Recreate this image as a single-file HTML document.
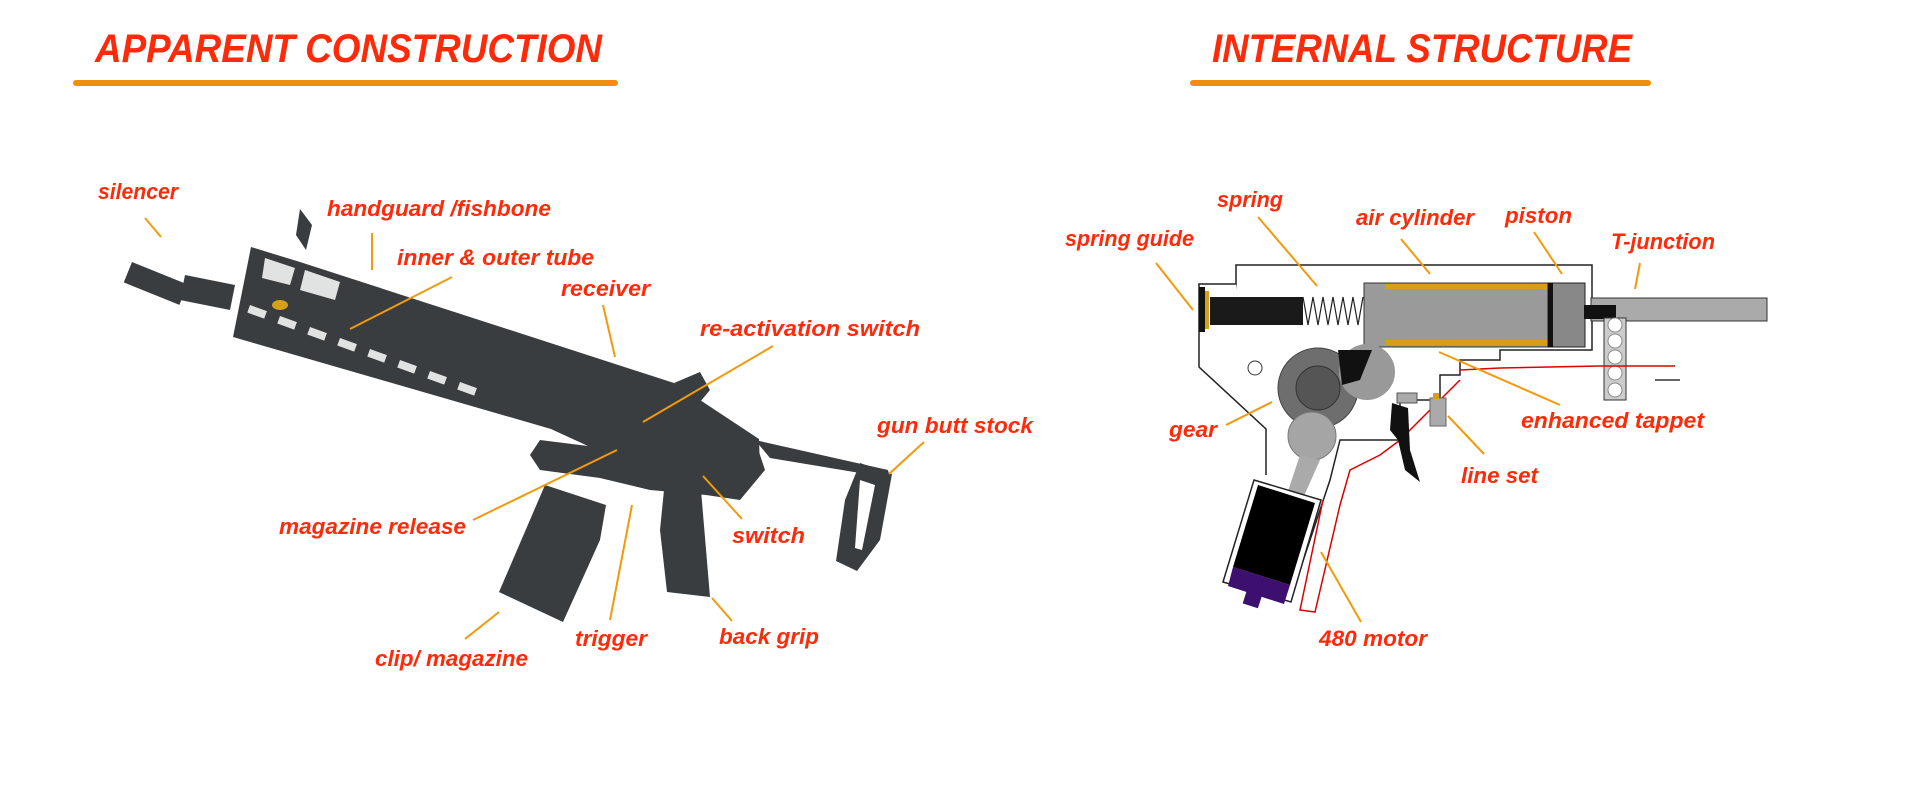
<!DOCTYPE html>
<html><head><meta charset="utf-8"><style>
html,body{margin:0;padding:0;background:#fff;width:1920px;height:800px;overflow:hidden}
svg{display:block}
.t{font-family:"Liberation Sans",sans-serif;font-weight:bold;font-style:italic;fill:#ff2a0a;font-size:40px}
.l{font-family:"Liberation Sans",sans-serif;font-style:italic;font-weight:bold;fill:#ff2a0a;font-size:22px}
.ld{stroke:#f29a0c;stroke-width:2;fill:none}
</style></head><body>
<svg width="1920" height="800" viewBox="0 0 1920 800" xmlns="http://www.w3.org/2000/svg">
<text class="t" x="95" y="62" textLength="507" lengthAdjust="spacingAndGlyphs">APPARENT CONSTRUCTION</text>
<rect x="73" y="80" width="545" height="6" rx="3" fill="#f0900a"/>
<text class="t" x="1212" y="62" textLength="420" lengthAdjust="spacingAndGlyphs">INTERNAL STRUCTURE</text>
<rect x="1190" y="80" width="461" height="6" rx="3" fill="#f0900a"/>

<g fill="#3a3d3f">
<rect x="132" y="262" width="60" height="22" transform="rotate(22 132 262)"/>
<polygon points="185,275 235,285 230,310 180,300"/>
<polygon points="251,247 300,262 674,383 700,400 759,439 760,470 720,480 700,490 640,470 551,429 233,337"/>
<polygon points="300,209 296,235 306,250 312,225"/>
<polygon points="674,383 700,372 710,390 700,402"/>
<polygon points="540,440 700,460 755,440 765,470 740,500 706,495 650,490 600,478 540,470 530,455"/>
<polygon points="545,485 606,505 600,540 563,622 499,592"/>
<polygon points="664,490 701,490 710,597 667,592 660,530"/>
<polygon points="755,440 888,470 890,478 770,458"/>
<polygon points="860,463 892,474 880,540 857,571 836,561 845,500"/>
</g>
<g fill="#fff" opacity="0.85">
<polygon points="265,258 295,268 290,285 262,278"/>
<polygon points="305,270 340,282 335,300 300,290"/>
<rect x="250" y="305" width="18" height="8" transform="rotate(20 250 305)"/>
<rect x="280" y="316" width="18" height="8" transform="rotate(20 280 316)"/>
<rect x="310" y="327" width="18" height="8" transform="rotate(20 310 327)"/>
<rect x="340" y="338" width="18" height="8" transform="rotate(20 340 338)"/>
<rect x="370" y="349" width="18" height="8" transform="rotate(20 370 349)"/>
<rect x="400" y="360" width="18" height="8" transform="rotate(20 400 360)"/>
<rect x="430" y="371" width="18" height="8" transform="rotate(20 430 371)"/>
<rect x="460" y="382" width="18" height="8" transform="rotate(20 460 382)"/>
</g>
<polygon points="860,480 875,485 862,550 855,548" fill="#fff"/>
<ellipse cx="280" cy="305" rx="8" ry="5" fill="#d4a017"/>

<g class="ld">
<line x1="145" y1="218" x2="161" y2="237"/>
<line x1="372" y1="233" x2="372" y2="270"/>
<line x1="452" y1="277" x2="350" y2="329"/>
<line x1="603" y1="305" x2="615" y2="357"/>
<line x1="773" y1="346" x2="643" y2="422"/>
<line x1="924" y1="442" x2="889" y2="474"/>
<line x1="473" y1="520" x2="617" y2="450"/>
<line x1="742" y1="519" x2="703" y2="476"/>
<line x1="610" y1="620" x2="632" y2="505"/>
<line x1="732" y1="621" x2="712" y2="598"/>
<line x1="465" y1="639" x2="499" y2="612"/>
</g>
<g class="l">
<text x="98" y="199" textLength="80" lengthAdjust="spacingAndGlyphs">silencer</text>
<text x="327" y="216" textLength="224" lengthAdjust="spacingAndGlyphs">handguard /fishbone</text>
<text x="397" y="265" textLength="197" lengthAdjust="spacingAndGlyphs">inner &amp; outer tube</text>
<text x="561" y="296" textLength="89" lengthAdjust="spacingAndGlyphs">receiver</text>
<text x="700" y="336" textLength="220" lengthAdjust="spacingAndGlyphs">re-activation switch</text>
<text x="877" y="433" textLength="156" lengthAdjust="spacingAndGlyphs">gun butt stock</text>
<text x="279" y="534" textLength="187" lengthAdjust="spacingAndGlyphs">magazine release</text>
<text x="732" y="543" textLength="73" lengthAdjust="spacingAndGlyphs">switch</text>
<text x="575" y="646" textLength="72" lengthAdjust="spacingAndGlyphs">trigger</text>
<text x="719" y="644" textLength="100" lengthAdjust="spacingAndGlyphs">back grip</text>
<text x="375" y="666" textLength="153" lengthAdjust="spacingAndGlyphs">clip/ magazine</text>
</g>

<g stroke="#222" stroke-width="1.5" fill="#fff">
<polyline points="1236,340 1236,265 1592,265 1592,350 1500,350 1500,360 1460,360 1460,375 1440,375 1440,400 1400,400 1400,440 1340,440 1330,480 1290,600"/>
<polyline points="1236,284 1199,284 1199,367 1266,429 1266,475"/>
</g>
<rect x="1364" y="283" width="221" height="64" fill="#9a9a9a" stroke="#333"/>
<rect x="1385" y="284" width="180" height="5" fill="#d4a017"/>
<rect x="1385" y="340" width="180" height="5" fill="#d4a017"/>
<rect x="1548" y="283" width="37" height="64" fill="#888" stroke="#222"/>
<rect x="1548" y="283" width="5" height="64" fill="#111"/>
<rect x="1199" y="287" width="6" height="45" fill="#111"/>
<rect x="1205" y="291" width="4" height="38" fill="#d4a017"/>
<rect x="1210" y="297" width="93" height="28" fill="#1a1a1a"/>
<path d="M1303,297 l5,28 l5,-28 l5,28 l5,-28 l5,28 l5,-28 l5,28 l5,-28 l5,28 l5,-28 l5,28 l5,-28" stroke="#222" fill="none" stroke-width="1.2"/>
<rect x="1591" y="298" width="176" height="23" fill="#aaa" stroke="#333"/>
<rect x="1584" y="305" width="32" height="14" fill="#111"/>
<rect x="1604" y="318" width="22" height="82" fill="#ccc" stroke="#333"/>
<g fill="#fff" stroke="#888"><circle cx="1615" cy="325" r="7"/><circle cx="1615" cy="341" r="7"/><circle cx="1615" cy="357" r="7"/><circle cx="1615" cy="373" r="7"/><circle cx="1615" cy="390" r="7"/></g>
<line x1="1600" y1="366" x2="1675" y2="366" stroke="#d00" stroke-width="1.5"/>
<line x1="1655" y1="380" x2="1680" y2="380" stroke="#333" stroke-width="1.5"/>
<circle cx="1255" cy="368" r="7" fill="#fff" stroke="#333"/>
<circle cx="1318" cy="388" r="40" fill="#6e6e6e" stroke="#444"/>
<circle cx="1318" cy="388" r="22" fill="#555" stroke="#333"/>
<circle cx="1367" cy="372" r="28" fill="#999"/>
<polygon points="1338,350 1372,350 1360,380 1342,385" fill="#111"/>
<circle cx="1312" cy="436" r="24" fill="#a5a5a5" stroke="#777"/>
<polygon points="1300,455 1320,460 1300,505 1285,500" fill="#aaa"/>
<polygon points="1254,480 1321,500 1291,602 1223,582" fill="#fff" stroke="#222" stroke-width="1.5"/>
<polygon points="1258,485 1315,503 1290,585 1233,567" fill="#000"/>
<polygon points="1233,567 1290,585 1284,604 1228,586" fill="#3d0f6e"/>
<rect x="1247" y="590" width="16" height="14" fill="#3d0f6e" transform="rotate(18 1247 590)"/>
<polyline points="1323,500 1300,610 1315,612 1340,505 1350,470 1380,455 1400,440 1440,400 1460,380" fill="none" stroke="#d00" stroke-width="1.5"/>
<polyline points="1460,370 1500,368 1600,366" fill="none" stroke="#d00" stroke-width="1.5"/>
<polygon points="1392,403 1408,408 1410,450 1420,482 1405,470 1398,440 1390,430" fill="#111"/>
<rect x="1397" y="393" width="20" height="10" fill="#aaa" stroke="#555"/>
<rect x="1430" y="398" width="16" height="28" fill="#aaa" stroke="#666"/>
<rect x="1433" y="393" width="6" height="6" fill="#d4a017"/>

<g class="ld">
<line x1="1156" y1="263" x2="1193" y2="310"/>
<line x1="1258" y1="217" x2="1317" y2="286"/>
<line x1="1401" y1="239" x2="1430" y2="274"/>
<line x1="1534" y1="232" x2="1562" y2="274"/>
<line x1="1640" y1="263" x2="1635" y2="289"/>
<line x1="1226" y1="425" x2="1272" y2="402"/>
<line x1="1560" y1="405" x2="1439" y2="352"/>
<line x1="1484" y1="454" x2="1448" y2="416"/>
<line x1="1361" y1="622" x2="1321" y2="552"/>
</g>
<g class="l">
<text x="1065" y="246" textLength="129" lengthAdjust="spacingAndGlyphs">spring guide</text>
<text x="1217" y="207" textLength="66" lengthAdjust="spacingAndGlyphs">spring</text>
<text x="1356" y="225" textLength="118" lengthAdjust="spacingAndGlyphs">air cylinder</text>
<text x="1505" y="223" textLength="67" lengthAdjust="spacingAndGlyphs">piston</text>
<text x="1611" y="249" textLength="104" lengthAdjust="spacingAndGlyphs">T-junction</text>
<text x="1169" y="437" textLength="48" lengthAdjust="spacingAndGlyphs">gear</text>
<text x="1521" y="428" textLength="183" lengthAdjust="spacingAndGlyphs">enhanced tappet</text>
<text x="1461" y="483" textLength="77" lengthAdjust="spacingAndGlyphs">line set</text>
<text x="1319" y="646" textLength="108" lengthAdjust="spacingAndGlyphs">480 motor</text>
</g>
</svg>
</body></html>
